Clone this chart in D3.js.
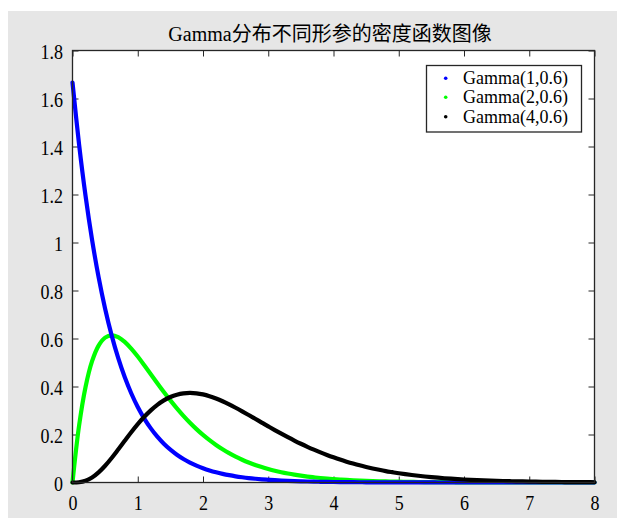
<!DOCTYPE html>
<html><head><meta charset="utf-8">
<script src="https://cdn.jsdelivr.net/npm/d3@7"></script>
<style>
body{margin:0;background:#fff;}
svg{display:block;}
text{font-family:"Liberation Serif","Times New Roman","Noto Sans CJK SC",serif;fill:#000;}
</style>
</head><body>
<svg id="chart" width="617" height="519"></svg>
<script>
const title = "Gamma分布不同形参的密度函数图像";
const seriesNames = ["Gamma(1,0.6)", "Gamma(2,0.6)", "Gamma(4,0.6)"];
const seriesColors = ["#0000ff", "#00ff00", "#000000"];
const xTicks = [0, 1, 2, 3, 4, 5, 6, 7, 8];
const yTicks = [0, 0.2, 0.4, 0.6, 0.8, 1, 1.2, 1.4, 1.6, 1.8];
const xStep = 0.1;

const gamma1 = [1.6667,1.4108,1.1942,1.0109,0.8557,0.7243,0.6131,0.5190,0.4393,0.3719,
0.3148,0.2665,0.2256,0.1909,0.1616,0.1368,0.1158,0.0980,0.0830,0.0702,
0.0595,0.0503,0.0426,0.0361,0.0305,0.0258,0.0219,0.0185,0.0157,0.0133,
0.0112,0.0095,0.0080,0.0068,0.0058,0.0049,0.0041,0.0035,0.0030,0.0025,
0.0021,0.0018,0.0015,0.0013,0.0011,0.0009,0.0008,0.0007,0.0006,0.0005,
0.0004,0.0003,0.0003,0.0002,0.0002,0.0002,0.0001,0.0001,0.0001,0.0001,
0.0001,0.0001,0.0001,0,0,0,0,0,0,0,
0,0,0,0,0,0,0,0,0,0,
0];
const gamma2 = [0,0.2351,0.3981,0.5054,0.5705,0.6036,0.6131,0.6055,0.5858,0.5578,
0.5247,0.4885,0.4511,0.4137,0.3771,0.3420,0.3088,0.2777,0.2489,0.2224,
0.1982,0.1762,0.1562,0.1382,0.1221,0.1077,0.0948,0.0833,0.0731,0.0641,
0.0562,0.0491,0.0429,0.0375,0.0327,0.0285,0.0248,0.0216,0.0187,0.0163,
0.0141,0.0123,0.0106,0.0092,0.0080,0.0069,0.0060,0.0052,0.0045,0.0039,
0.0033,0.0029,0.0025,0.0021,0.0018,0.0016,0.0014,0.0012,0.0010,0.0009,
0.0008,0.0007,0.0006,0.0005,0.0004,0.0004,0.0003,0.0003,0.0002,0.0002,
0.0002,0.0001,0.0001,0.0001,0.0001,0.0001,0.0001,0.0001,0.0001,0.0001,
0.0001];
const gamma4 = [0,0.0011,0.0074,0.0211,0.0423,0.0699,0.1022,0.1374,0.1736,0.2092,
0.2429,0.2737,0.3007,0.3237,0.3422,0.3563,0.3660,0.3716,0.3734,0.3717,
0.3670,0.3596,0.3500,0.3386,0.3256,0.3115,0.2966,0.2812,0.2655,0.2497,
0.2340,0.2185,0.2035,0.1889,0.1748,0.1614,0.1487,0.1367,0.1253,0.1147,
0.1048,0.0955,0.0869,0.0789,0.0715,0.0648,0.0586,0.0529,0.0476,0.0430,
0.0386,0.0346,0.0311,0.0280,0.0250,0.0224,0.0200,0.0178,0.0159,0.0142,
0.0126,0.0112,0.0100,0.0089,0.0079,0.0070,0.0062,0.0055,0.0048,0.0043,
0.0038,0.0033,0.0029,0.0026,0.0023,0.0020,0.0018,0.0016,0.0014,0.0012,
0.0011];

const seriesValues = [gamma1, gamma2, gamma4];
const drawOrder = [1, 0, 2];

const svg = d3.select("#chart");
const L = 72.5, R = 594.5, T = 50.5, B = 482.5;
const STRETCH = 1.2;
const LEGEND_STRETCH = 1.04;
const frameColor = "#262626";

svg.append("rect").attr("x", 8).attr("y", 11).attr("width", 609).attr("height", 507).attr("fill", "#e6e6e6");
svg.append("rect").attr("x", L).attr("y", T).attr("width", R - L).attr("height", B - T).attr("fill", "#fff");

const x = d3.scaleLinear().domain([0, 8]).range([L, R]);
const y = d3.scaleLinear().domain([0, 1.8]).range([B, T]);

function styleAxis(g) {
  g.select(".domain").remove();
  g.selectAll(".tick line").attr("stroke", frameColor).attr("stroke-width", 1);
}

// bottom axis
const gb = svg.append("g").attr("transform", `translate(0,${B})`)
  .call(d3.axisBottom(x).tickValues(xTicks).tickSizeInner(-6).tickSizeOuter(0).tickFormat(d3.format("d")));
styleAxis(gb);
gb.selectAll(".tick text").attr("y", null).attr("dy", null)
  .attr("transform", `translate(0,27.5) scale(1,${STRETCH})`)
  .attr("font-size", 18).attr("font-family", null).attr("fill", "#000");
gb.attr("font-family", null).attr("font-size", null);

// top axis (ticks only)
const gt = svg.append("g").attr("transform", `translate(0,${T})`)
  .call(d3.axisTop(x).tickValues(xTicks).tickSizeInner(-6).tickSizeOuter(0).tickFormat(""));
styleAxis(gt);

// left axis
const gl = svg.append("g").attr("transform", `translate(${L},0)`)
  .call(d3.axisLeft(y).tickValues(yTicks).tickSizeInner(-6).tickSizeOuter(0).tickFormat(d3.format("~g")));
styleAxis(gl);
gl.selectAll(".tick text").attr("x", null).attr("dy", null)
  .attr("text-anchor", "end")
  .attr("transform", `translate(-9.5,7.6) scale(1,${STRETCH})`)
  .attr("font-size", 18).attr("font-family", null).attr("fill", "#000");
gl.attr("font-family", null).attr("font-size", null);

// right axis (ticks only)
const gr = svg.append("g").attr("transform", `translate(${R},0)`)
  .call(d3.axisRight(y).tickValues(yTicks).tickSizeInner(-6).tickSizeOuter(0).tickFormat(""));
styleAxis(gr);

// curves
const line = d3.line()
  .x((d, i) => x(i * xStep))
  .y(d => y(d))
  .curve(d3.curveCatmullRom.alpha(0.5));

drawOrder.forEach(si => {
  svg.append("path")
    .datum(seriesValues[si])
    .attr("d", line)
    .attr("fill", "none")
    .attr("stroke", seriesColors[si])
    .attr("stroke-width", 4.2)
    .attr("stroke-linecap", "round")
    .attr("stroke-linejoin", "round");
});

// frame
svg.append("rect").attr("x", L).attr("y", T).attr("width", R - L).attr("height", B - T)
  .attr("fill", "none").attr("stroke", frameColor).attr("stroke-width", 1.3);

// title
svg.append("text").attr("x", 330).attr("y", 41).attr("text-anchor", "middle")
  .attr("font-size", 20).text(title);

// legend
const lg = svg.append("g");
lg.append("rect").attr("x", 426.5).attr("y", 65.5).attr("width", 155).attr("height", 66.5)
  .attr("fill", "#fff").attr("stroke", frameColor).attr("stroke-width", 1.3);
const legendRows = [78.3, 97.3, 116.7];
seriesNames.forEach((name, i) => {
  lg.append("circle").attr("cx", 445.7).attr("cy", legendRows[i]).attr("r", 1.8).attr("fill", seriesColors[i]);
  lg.append("text").attr("font-size", 18)
    .attr("transform", `translate(463,${legendRows[i] + 6}) scale(1,${LEGEND_STRETCH})`)
    .text(name);
});
</script>
</body></html>
